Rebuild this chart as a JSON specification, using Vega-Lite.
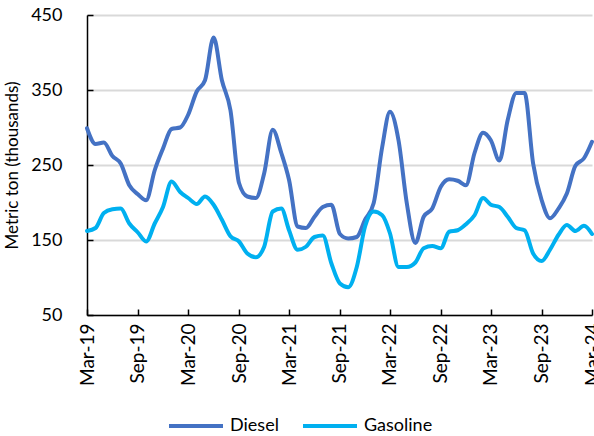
{
  "$schema": "https://vega.github.io/schema/vega-lite/v6.json",
  "autosize": "none",
  "padding": {"left": 87, "top": 15, "right": 2, "bottom": 121},
  "width": 505,
  "height": 300,
  "config": {
    "font": "Lato",
    "view": {"stroke": null},
    "axis": {"labelColor": "#000000", "titleColor": "#000000", "labelFont": "Lato", "titleFont": "Lato"}
  },
  "data": {
    "values": [
      {"date": "2019-03-01T00:00:00", "Diesel": 299, "Gasoline": 162},
      {"date": "2019-04-01T00:00:00", "Diesel": 278, "Gasoline": 166},
      {"date": "2019-05-01T00:00:00", "Diesel": 280, "Gasoline": 186},
      {"date": "2019-06-01T00:00:00", "Diesel": 262, "Gasoline": 191},
      {"date": "2019-07-01T00:00:00", "Diesel": 252, "Gasoline": 192},
      {"date": "2019-08-01T00:00:00", "Diesel": 223, "Gasoline": 172},
      {"date": "2019-09-01T00:00:00", "Diesel": 211, "Gasoline": 160},
      {"date": "2019-10-01T00:00:00", "Diesel": 203, "Gasoline": 148},
      {"date": "2019-11-01T00:00:00", "Diesel": 243, "Gasoline": 172},
      {"date": "2019-12-01T00:00:00", "Diesel": 272, "Gasoline": 194},
      {"date": "2020-01-01T00:00:00", "Diesel": 298, "Gasoline": 228},
      {"date": "2020-02-01T00:00:00", "Diesel": 300, "Gasoline": 214},
      {"date": "2020-03-01T00:00:00", "Diesel": 317, "Gasoline": 206},
      {"date": "2020-04-01T00:00:00", "Diesel": 348, "Gasoline": 198},
      {"date": "2020-05-01T00:00:00", "Diesel": 363, "Gasoline": 208},
      {"date": "2020-06-01T00:00:00", "Diesel": 420, "Gasoline": 197},
      {"date": "2020-07-01T00:00:00", "Diesel": 363, "Gasoline": 177},
      {"date": "2020-08-01T00:00:00", "Diesel": 323, "Gasoline": 155},
      {"date": "2020-09-01T00:00:00", "Diesel": 226, "Gasoline": 148},
      {"date": "2020-10-01T00:00:00", "Diesel": 208, "Gasoline": 132},
      {"date": "2020-11-01T00:00:00", "Diesel": 206, "Gasoline": 127},
      {"date": "2020-12-01T00:00:00", "Diesel": 239, "Gasoline": 141},
      {"date": "2021-01-01T00:00:00", "Diesel": 297, "Gasoline": 188},
      {"date": "2021-02-01T00:00:00", "Diesel": 266, "Gasoline": 192},
      {"date": "2021-03-01T00:00:00", "Diesel": 230, "Gasoline": 163},
      {"date": "2021-04-01T00:00:00", "Diesel": 168, "Gasoline": 137},
      {"date": "2021-05-01T00:00:00", "Diesel": 166, "Gasoline": 141},
      {"date": "2021-06-01T00:00:00", "Diesel": 181, "Gasoline": 154},
      {"date": "2021-07-01T00:00:00", "Diesel": 194, "Gasoline": 156},
      {"date": "2021-08-01T00:00:00", "Diesel": 197, "Gasoline": 119},
      {"date": "2021-09-01T00:00:00", "Diesel": 158, "Gasoline": 92},
      {"date": "2021-10-01T00:00:00", "Diesel": 152, "Gasoline": 87},
      {"date": "2021-11-01T00:00:00", "Diesel": 154, "Gasoline": 114},
      {"date": "2021-12-01T00:00:00", "Diesel": 177, "Gasoline": 168},
      {"date": "2022-01-01T00:00:00", "Diesel": 199, "Gasoline": 188},
      {"date": "2022-02-01T00:00:00", "Diesel": 274, "Gasoline": 183},
      {"date": "2022-03-01T00:00:00", "Diesel": 321, "Gasoline": 159},
      {"date": "2022-04-01T00:00:00", "Diesel": 283, "Gasoline": 114},
      {"date": "2022-05-01T00:00:00", "Diesel": 199, "Gasoline": 114},
      {"date": "2022-06-01T00:00:00", "Diesel": 146, "Gasoline": 120},
      {"date": "2022-07-01T00:00:00", "Diesel": 181, "Gasoline": 139},
      {"date": "2022-08-01T00:00:00", "Diesel": 192, "Gasoline": 142},
      {"date": "2022-09-01T00:00:00", "Diesel": 221, "Gasoline": 139},
      {"date": "2022-10-01T00:00:00", "Diesel": 231, "Gasoline": 161},
      {"date": "2022-11-01T00:00:00", "Diesel": 229, "Gasoline": 163},
      {"date": "2022-12-01T00:00:00", "Diesel": 223, "Gasoline": 171},
      {"date": "2023-01-01T00:00:00", "Diesel": 266, "Gasoline": 183},
      {"date": "2023-02-01T00:00:00", "Diesel": 293, "Gasoline": 206},
      {"date": "2023-03-01T00:00:00", "Diesel": 283, "Gasoline": 197},
      {"date": "2023-04-01T00:00:00", "Diesel": 256, "Gasoline": 194},
      {"date": "2023-05-01T00:00:00", "Diesel": 310, "Gasoline": 181},
      {"date": "2023-06-01T00:00:00", "Diesel": 346, "Gasoline": 166},
      {"date": "2023-07-01T00:00:00", "Diesel": 346, "Gasoline": 163},
      {"date": "2023-08-01T00:00:00", "Diesel": 252, "Gasoline": 132},
      {"date": "2023-09-01T00:00:00", "Diesel": 203, "Gasoline": 122},
      {"date": "2023-10-01T00:00:00", "Diesel": 179, "Gasoline": 137},
      {"date": "2023-11-01T00:00:00", "Diesel": 192, "Gasoline": 157},
      {"date": "2023-12-01T00:00:00", "Diesel": 212, "Gasoline": 170},
      {"date": "2024-01-01T00:00:00", "Diesel": 249, "Gasoline": 162},
      {"date": "2024-02-01T00:00:00", "Diesel": 259, "Gasoline": 169},
      {"date": "2024-03-01T00:00:00", "Diesel": 281, "Gasoline": 158}
    ]
  },
  "transform": [{"fold": ["Diesel", "Gasoline"], "as": ["fuel", "value"]}],
  "mark": {"type": "line", "interpolate": "monotone", "strokeWidth": 4, "strokeCap": "round", "strokeJoin": "round", "clip": false},
  "encoding": {
    "x": {
      "field": "date",
      "type": "temporal",
      "scale": {"domain": [{"year": 2019, "month": 3, "date": 1}, {"year": 2024, "month": 3, "date": 1}]},
      "axis": {
        "title": null,
        "values": [
          {"year": 2019, "month": 3, "date": 1}, {"year": 2019, "month": 9, "date": 1},
          {"year": 2020, "month": 3, "date": 1}, {"year": 2020, "month": 9, "date": 1},
          {"year": 2021, "month": 3, "date": 1}, {"year": 2021, "month": 9, "date": 1},
          {"year": 2022, "month": 3, "date": 1}, {"year": 2022, "month": 9, "date": 1},
          {"year": 2023, "month": 3, "date": 1}, {"year": 2023, "month": 9, "date": 1},
          {"year": 2024, "month": 3, "date": 1}
        ],
        "format": "%b-%y",
        "labelAngle": -90,
        "labelAlign": "right",
        "labelBaseline": "middle",
        "labelFontSize": 19,
        "labelPadding": 14,
        "labelFlush": false,
        "labelOverlap": false,
        "domainColor": "#000000",
        "domainWidth": 1.5,
        "tickColor": "#000000",
        "tickWidth": 1.5,
        "tickSize": -6,
        "grid": false
      }
    },
    "y": {
      "field": "value",
      "type": "quantitative",
      "scale": {"domain": [50, 450], "nice": false, "zero": false},
      "axis": {
        "title": "Metric ton (thousands)",
        "titleFontSize": 17,
        "titleFontWeight": "normal",
        "titlePadding": 9,
        "values": [50, 150, 250, 350, 450],
        "labelFontSize": 18,
        "labelPadding": 31,
        "domainColor": "#000000",
        "domainWidth": 1.5,
        "tickColor": "#000000",
        "tickWidth": 1.5,
        "tickSize": -6,
        "gridColor": "#d9d9d9",
        "gridWidth": 2,
        "grid": true
      }
    },
    "color": {
      "field": "fuel",
      "type": "nominal",
      "scale": {"domain": ["Diesel", "Gasoline"], "range": ["#4472C4", "#00B0F0"]},
      "legend": {
        "title": null,
        "orient": "none",
        "legendX": 80,
        "legendY": 382,
        "direction": "horizontal",
        "symbolType": "stroke",
        "symbolSize": 2916,
        "symbolStrokeWidth": 4,
        "labelFontSize": 18,
        "labelColor": "#000000",
        "labelOffset": 5,
        "columnPadding": 16,
        "padding": 0
      }
    }
  }
}
